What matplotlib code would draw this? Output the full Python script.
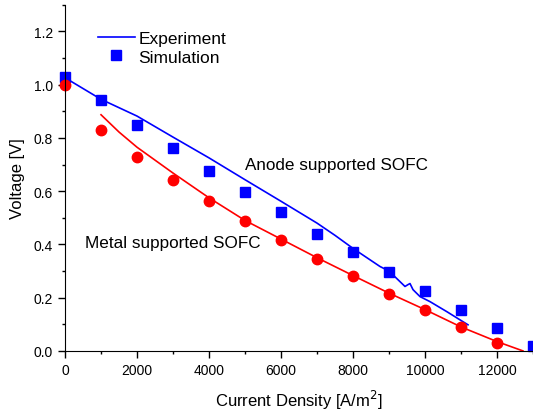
import numpy as np
import matplotlib
matplotlib.use('Agg')
import matplotlib.pyplot as plt
from matplotlib.ticker import MultipleLocator

plt.rcParams['font.family'] = ['Liberation Sans', 'DejaVu Sans']

# anode supported SOFC
anodo_sim_x = [0, 1000, 2000, 3000, 4000, 5000, 6000, 7000, 8000, 9000, 10000, 11000, 12000, 13000]
anodo_sim_y = [1.03, 0.943, 0.849, 0.762, 0.676, 0.596, 0.52, 0.44, 0.37, 0.298, 0.226, 0.155, 0.087, 0.02]
anodo_exp_x = [0, 1000, 2000, 3000, 4000, 5000, 6000, 7000, 7500, 8000, 8750, 9000, 9306, 9444,
               9528, 9583, 9667, 9861, 10139, 10611, 11194]
anodo_exp_y = [1.026, 0.945, 0.882, 0.803, 0.725, 0.643, 0.562, 0.48, 0.434, 0.385, 0.317, 0.30, 0.26, 0.242,
               0.249, 0.253, 0.23, 0.204, 0.185, 0.147, 0.098]

# metal supported SOFC
metal_sim_x = [0, 1000, 2000, 3000, 4000, 5000, 6000, 7000, 8000, 9000, 10000, 11000, 12000]
metal_sim_y = [1.0, 0.83, 0.728, 0.641, 0.562, 0.487, 0.415, 0.347, 0.28, 0.215, 0.155, 0.09, 0.03]
metal_exp_x = [1000, 1500, 2000, 3000, 4000, 5000, 6000, 7000, 8000, 9000, 10000, 11000, 12000, 12720]
metal_exp_y = [0.887, 0.822, 0.765, 0.668, 0.575, 0.49, 0.42, 0.35, 0.283, 0.217, 0.155, 0.09, 0.035, 0.0]

fig = plt.figure(figsize=(5.33, 4.14), dpi=100)
ax = fig.add_axes([0.122, 0.15, 0.878, 0.836])

ax.plot(anodo_exp_x, anodo_exp_y, '-', color='#0000ff', lw=1.2, label='Experiment')
ax.plot(anodo_sim_x, anodo_sim_y, 's', color='#0000ff', ms=7.3, label='Simulation', clip_on=False)
ax.plot(metal_exp_x, metal_exp_y, '-', color='#ff0000', lw=1.2)
ax.plot(metal_sim_x, metal_sim_y, 'o', color='#ff0000', ms=7.5, clip_on=False)

ax.set_xlim(0, 13000)
ax.set_ylim(0, 1.3)
ax.xaxis.set_major_locator(MultipleLocator(2000))
ax.xaxis.set_minor_locator(MultipleLocator(1000))
ax.yaxis.set_major_locator(MultipleLocator(0.2))
ax.yaxis.set_minor_locator(MultipleLocator(0.1))
ax.yaxis.set_major_formatter(matplotlib.ticker.FormatStrFormatter('%.1f'))
ax.tick_params(which='major', direction='out', length=5, width=1, labelsize=10)
ax.tick_params(which='minor', direction='out', length=2.5, width=1)
ax.spines['top'].set_visible(False)
ax.spines['right'].set_visible(False)

ax.set_xlabel('Current Density [A/m$^2$]', fontsize=12, labelpad=8)
ax.set_ylabel('Voltage [V]', fontsize=12, labelpad=6.5)

ax.text(7530, 0.70, 'Anode supported SOFC', fontsize=12.3, ha='center', va='center')
ax.text(3000, 0.408, 'Metal supported SOFC', fontsize=12.3, ha='center', va='center')

ax.legend(loc='upper left', bbox_to_anchor=(0.044, 0.96), frameon=False, fontsize=12.5,
          handlelength=2.15, handletextpad=0.2, borderaxespad=0.3, labelspacing=0.2)

fig.savefig('out.png', dpi=100)
